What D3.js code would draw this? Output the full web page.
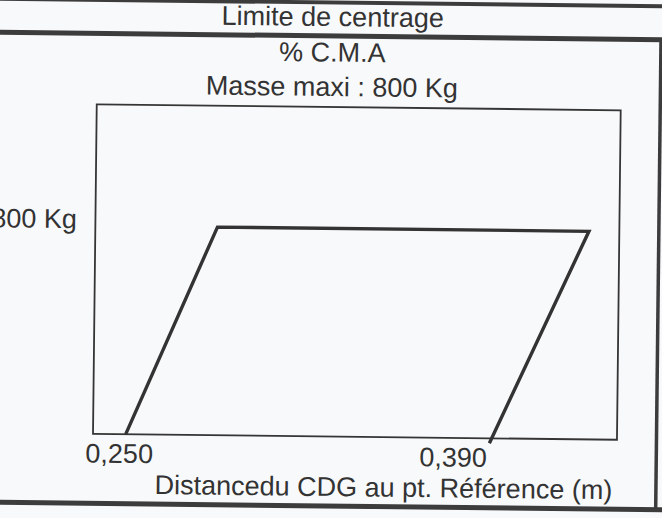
<!DOCTYPE html>
<html>
<head>
<meta charset="utf-8">
<script src="https://cdn.jsdelivr.net/npm/d3@7"></script>
<style>
  html, body { margin: 0; padding: 0; background: #f8f9fb; }
  svg { display: block; }
  text { font-family: "Liberation Sans", Arial, sans-serif; fill: #333; }
</style>
</head>
<body>
<svg id="chart" width="662" height="518"></svg>
<script>
// ---- data ----
const titleLines = ["Limite de centrage", "% C.M.A", "Masse maxi : 800 Kg"];
const xDomain = [0.2374, 0.4391];          // distance CDG (m) spanned by the frame
const massDomain = [500, 975];             // mass (kg) spanned by the frame
const xTicks = [0.250, 0.390];
const xTickLabels = ["0,250", "0,390"];
const massTicks = [800];
const massTickLabels = ["800 Kg"];
const envelopeX = [0.250, 0.2844, 0.4274, 0.390];
const envelopeMass = [500, 800, 800, 493];
const xLabel = "Distancedu CDG au pt. Référence (m)";

// ---- layout ----
const W = 662, H = 518;
const box = { left: 95, right: 619, top: 107, bottom: 436.5 };
const ink = "#353535";
const fs = 27;

const svg = d3.select("#chart");
svg.append("rect").attr("width", W).attr("height", H).attr("fill", "#f8f9fb");

const g = svg.append("g").attr("transform", "rotate(0.65, 331, 259)");

// outer table frame
const frame = g.append("g").attr("stroke", "#3c3c3c").attr("fill", "none");
frame.append("line").attr("x1", -20).attr("x2", 690).attr("y1", 2.5).attr("y2", 2.5).attr("stroke-width", 4);
frame.append("line").attr("x1", -20).attr("x2", 690).attr("y1", 36).attr("y2", 36).attr("stroke-width", 5);
frame.append("line").attr("x1", -20).attr("x2", 690).attr("y1", 506).attr("y2", 506).attr("stroke-width", 5);
frame.append("line").attr("x1", 658.5).attr("x2", 658.5).attr("y1", 36).attr("y2", 506).attr("stroke-width", 3.5);

// titles
const titleY = [26, 61.5, 96];
g.selectAll("text.title").data(titleLines).join("text")
  .attr("class", "title")
  .attr("x", 330).attr("y", (d, i) => titleY[i])
  .attr("text-anchor", "middle")
  .attr("font-size", fs)
  .text(d => d);

// scales
const x = d3.scaleLinear().domain(xDomain).range([box.left, box.right]);
const y = d3.scaleLinear().domain(massDomain).range([box.bottom, box.top]);

// plot frame
g.append("rect")
  .attr("x", x(xDomain[0])).attr("y", y(massDomain[1]))
  .attr("width", x(xDomain[1]) - x(xDomain[0]))
  .attr("height", y(massDomain[0]) - y(massDomain[1]))
  .attr("fill", "none").attr("stroke", ink).attr("stroke-width", 1.8);

// envelope
const pts = envelopeX.map((v, i) => [v, envelopeMass[i]]);
g.append("path")
  .datum(pts)
  .attr("d", d3.line().x(d => x(d[0])).y(d => y(d[1])))
  .attr("fill", "none").attr("stroke", "#333").attr("stroke-width", 3.4)
  .attr("stroke-linejoin", "miter");

// x axis labels
const xLabelOffsets = [-6.8, -36.6];
const xAxis = g.append("g")
  .attr("transform", `translate(0,${box.bottom})`)
  .call(d3.axisBottom(x).tickValues(xTicks).tickSize(0).tickPadding(9.5)
    .tickFormat((d, i) => xTickLabels[i]));
xAxis.select(".domain").remove();
xAxis.selectAll("text")
  .attr("font-size", fs).attr("fill", "#333")
  .attr("font-family", "Liberation Sans, Arial, sans-serif")
  .attr("dx", (d, i) => xLabelOffsets[i]);

// y axis label
const yAxis = g.append("g")
  .attr("transform", `translate(${box.left},0)`)
  .call(d3.axisLeft(y).tickValues(massTicks).tickSize(0).tickPadding(18.5)
    .tickFormat((d, i) => massTickLabels[i]));
yAxis.select(".domain").remove();
yAxis.selectAll("text")
  .attr("font-size", fs).attr("fill", "#333")
  .attr("font-family", "Liberation Sans, Arial, sans-serif")
  .attr("dy", "0.08em");

// x axis title
g.append("text")
  .attr("x", 386).attr("y", 496)
  .attr("text-anchor", "middle")
  .attr("font-size", fs)
  .text(xLabel);
</script>
</body>
</html>
